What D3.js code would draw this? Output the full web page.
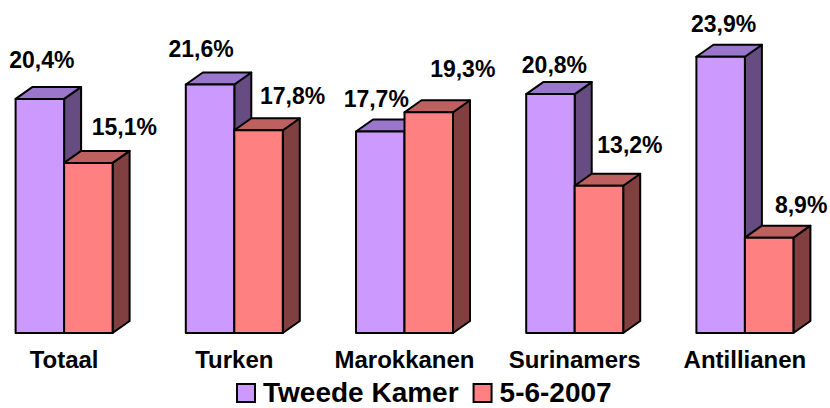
<html>
<head>
<style>
  body { margin: 0; background: #fff; }
  svg text { font-family: Arial, "Liberation Sans", Helvetica, sans-serif; font-weight: bold; fill: #000; }
  .face { stroke: #000; stroke-width: 2; stroke-linejoin: round; }
</style>
</head>
<body>
<svg id="chart" width="830" height="408"></svg>
<script src="https://d3js.org/d3.v7.min.js"></script>
<script>
// data
var categories = ['Totaal', 'Turken', 'Marokkanen', 'Surinamers', 'Antillianen'];
var seriesNames = ['Tweede Kamer', '5-6-2007'];
var tweedeKamer = [20.4, 21.6, 17.7, 20.8, 23.9];
var juni2007 = [15.1, 17.8, 19.3, 13.2, 8.9];
var valueLabels = [
  ['20,4%', '21,6%', '17,7%', '20,8%', '23,9%'],
  ['15,1%', '17,8%', '19,3%', '13,2%', '8,9%']
];

// layout: label nudges relative to top of front face (hand placed in original)
var labelNudgeX = [[2, -9, -4, 4, 3], [36, 34, 34, 31, 32]];
var labelNudgeY = [[-31, -27, -25, -21, -25], [-28, -26, -35, -33, -25]];

var fronts = ['#CC99FF', '#FF8080'];
var tops = ['#9977CC', '#BF6060'];
var sides = ['#664C80', '#804040'];

var depthX = 17, depthY = 12;

var svg = d3.select('#chart');

var x0 = d3.scalePoint()
  .domain(categories)
  .range([-21, 830])
  .padding(0.5);

var x1 = d3.scaleBand()
  .domain(seriesNames)
  .range([-48.5, 48.5]);

var y = d3.scaleLinear()
  .domain([1, 24])
  .range([333, 55.5]);

var rows = [];
categories.forEach(function(c, i) {
  rows.push({cat: c, s: 0, v: tweedeKamer[i], i: i});
  rows.push({cat: c, s: 1, v: juni2007[i], i: i});
});

var bars = svg.append('g').selectAll('g')
  .data(rows)
  .enter()
  .append('g');

function pts(a) { return a.map(function(p) { return p.join(','); }).join(' '); }

bars.each(function(d) {
  var g = d3.select(this);
  var x = x0(d.cat) + x1(seriesNames[d.s]);
  var w = x1.bandwidth();
  var yt = y(d.v), yb = y.range()[0];
  g.append('polygon').attr('class', 'face')
    .attr('points', pts([[x + w, yt], [x + w + depthX, yt - depthY], [x + w + depthX, yb - depthY], [x + w, yb]]))
    .style('fill', sides[d.s]);
  g.append('polygon').attr('class', 'face')
    .attr('points', pts([[x, yt], [x + depthX, yt - depthY], [x + w + depthX, yt - depthY], [x + w, yt]]))
    .style('fill', tops[d.s]);
  g.append('rect').attr('class', 'face')
    .attr('x', x).attr('y', yt).attr('width', w).attr('height', yb - yt)
    .style('fill', fronts[d.s]);
});

// value labels
svg.append('g').selectAll('text')
  .data(rows)
  .enter()
  .append('text')
  .attr('x', function(d) { return x0(d.cat) + x1(seriesNames[d.s]) + x1.bandwidth() / 2 + labelNudgeX[d.s][d.i]; })
  .attr('y', function(d) { return y(d.v) + labelNudgeY[d.s][d.i]; })
  .attr('text-anchor', 'middle')
  .style('font-size', '23px')
  .text(function(d) { return valueLabels[d.s][d.i]; });

// category labels
svg.append('g').selectAll('text')
  .data(categories)
  .enter()
  .append('text')
  .attr('x', function(d) { return x0(d); })
  .attr('y', 368)
  .attr('text-anchor', 'middle')
  .style('font-size', '24px')
  .text(function(d) { return d; });

// legend
var legend = svg.append('g').attr('transform', 'translate(237,402)');
var lx = 0;
seriesNames.forEach(function(name, s) {
  var item = legend.append('g').attr('transform', 'translate(' + lx + ',0)');
  item.append('rect')
    .attr('x', 0).attr('y', -18).attr('width', 18).attr('height', 18)
    .style('fill', fronts[s]).style('stroke', '#000').style('stroke-width', 2);
  var t = item.append('text')
    .attr('x', 26).attr('y', 0)
    .style('font-size', '28px')
    .text(name);
  lx += 26 + t.node().getComputedTextLength() + 15;
});
</script>
</body>
</html>
